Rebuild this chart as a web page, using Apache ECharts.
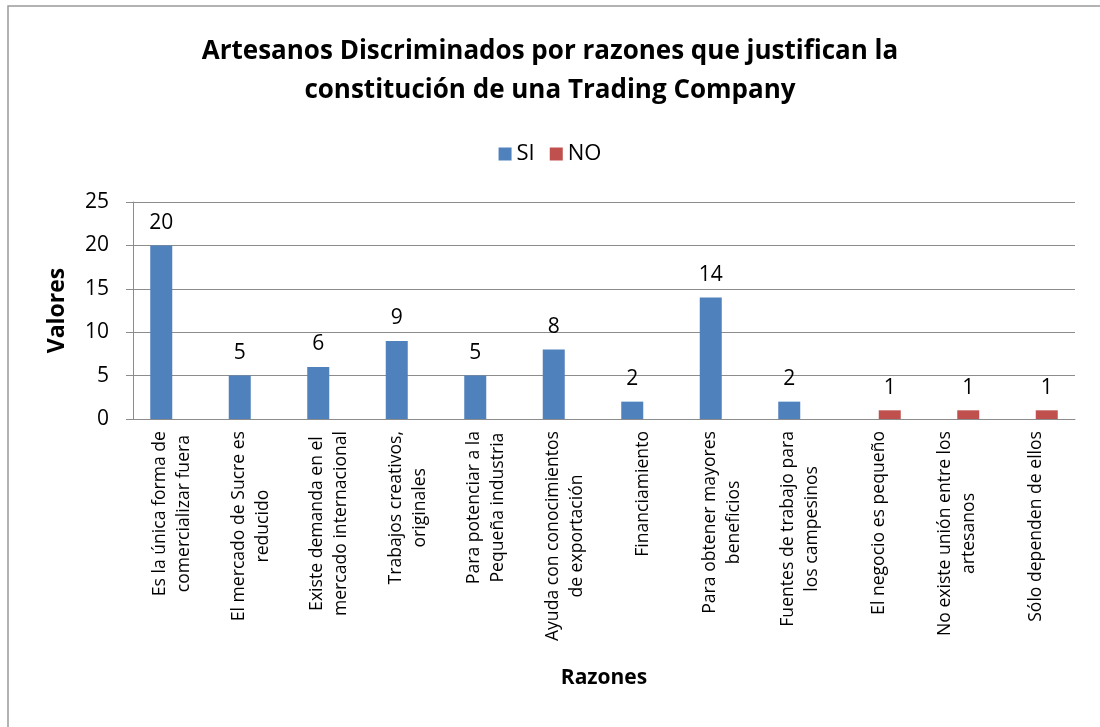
<!DOCTYPE html>
<html>
<head>
<meta charset="utf-8">
<script src="https://cdn.jsdelivr.net/npm/echarts@6/dist/echarts.min.js"></script>
<style>
html,body{margin:0;padding:0;background:#fff;}
#chart{width:1100px;height:727px;}
</style>
</head>
<body>
<div id="chart"></div>
<script>
const titleText = 'Artesanos Discriminados por razones que justifican la\nconstitución de una Trading Company';
const categories = [
  'Es la única forma de\ncomercializar fuera',
  'El mercado de Sucre es\nreducido',
  'Existe demanda en el\nmercado internacional',
  'Trabajos creativos,\noriginales',
  'Para potenciar a la\nPequeña industria',
  'Ayuda con conocimientos\nde exportación',
  'Financiamiento',
  'Para obtener mayores\nbeneficios',
  'Fuentes de trabajo para\nlos campesinos',
  'El negocio es pequeño',
  'No existe unión entre los\nartesanos',
  'Sólo dependen de ellos'
];
const siValues = [20, 5, 6, 9, 5, 8, 2, 14, 2, null, null, null];
const noValues = [null, null, null, null, null, null, null, null, null, 1, 1, 1];
const yTicks = { min: 0, max: 25, interval: 5 };

const FONT = '"Open Sans", "Noto Sans", sans-serif';
const chart = echarts.init(document.getElementById('chart'));
chart.setOption({
  animation: false,
  backgroundColor: '#ffffff',
  textStyle: { fontFamily: FONT, color: '#000' },
  graphic: [{
    type: 'rect',
    shape: { x: 8, y: 6, width: 1200, height: 800 },
    style: { fill: 'none', stroke: '#9a9a9a', lineWidth: 1.5 },
    silent: true
  }],
  title: {
    text: titleText,
    left: 'center',
    top: 27,
    textStyle: { fontFamily: FONT, fontSize: 26, fontWeight: 'bold', color: '#000', lineHeight: 39 }
  },
  legend: {
    top: 138,
    left: 'center',
    itemWidth: 13,
    itemHeight: 13,
    itemGap: 15,
    icon: 'rect',
    textStyle: { fontFamily: FONT, fontSize: 22, color: '#000' },
    data: ['SI', 'NO']
  },
  grid: { left: 133, right: 25, top: 202, bottom: 308, containLabel: false },
  xAxis: {
    type: 'category',
    data: categories,
    name: 'Razones',
    nameLocation: 'middle',
    nameGap: 249,
    nameTextStyle: { fontFamily: FONT, fontSize: 21, fontWeight: 'bold', color: '#000' },
    axisLine: { lineStyle: { color: '#8c8c8c', width: 1 } },
    axisTick: { show: false },
    axisLabel: {
      interval: 0,
      rotate: 90,
      margin: 12,
      color: '#000',
      formatter: function (v) {
        return v.split('\n').map(function (s) { return '{c|' + s + '}'; }).join('\n');
      },
      rich: {
        c: { align: 'center', fontFamily: FONT, fontSize: 17.6, lineHeight: 24, color: '#000' }
      }
    }
  },
  yAxis: {
    type: 'value',
    min: yTicks.min,
    max: yTicks.max,
    interval: yTicks.interval,
    name: 'Valores',
    nameLocation: 'middle',
    nameGap: 64,
    nameRotate: 90,
    nameTextStyle: { fontFamily: FONT, fontSize: 23, fontWeight: 'bold', color: '#000' },
    axisLine: { show: true, lineStyle: { color: '#8c8c8c', width: 1 } },
    axisTick: { show: true, length: 7, lineStyle: { color: '#8c8c8c' } },
    axisLabel: { margin: 24, fontFamily: FONT, fontSize: 21, color: '#000' },
    splitLine: { show: true, lineStyle: { color: '#8c8c8c', width: 1 } }
  },
  series: [
    {
      name: 'SI',
      type: 'bar',
      data: siValues,
      barWidth: 22,
      barGap: '0%',
      itemStyle: { color: '#4F81BD' },
      label: { show: true, position: 'top', distance: 12, fontFamily: FONT, fontSize: 21, color: '#000' }
    },
    {
      name: 'NO',
      type: 'bar',
      data: noValues,
      barWidth: 22,
      barGap: '0%',
      itemStyle: { color: '#C0504D' },
      label: { show: true, position: 'top', distance: 12, fontFamily: FONT, fontSize: 21, color: '#000' }
    }
  ]
});
</script>
</body>
</html>
